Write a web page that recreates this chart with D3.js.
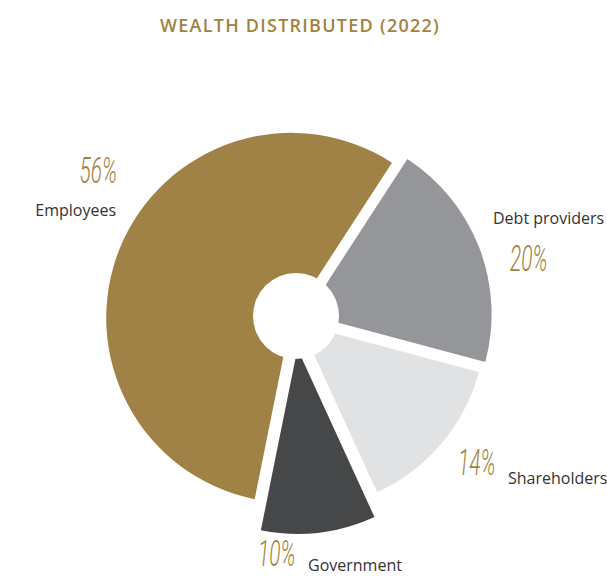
<!DOCTYPE html>
<html>
<head>
<meta charset="utf-8">
<script src="https://cdn.jsdelivr.net/npm/d3@7/dist/d3.min.js"></script>
<style>
  html, body { margin: 0; padding: 0; background: #ffffff; }
  svg { display: block; }
</style>
</head>
<body>
<svg id="chart" width="607" height="576"></svg>
<script>
// Wealth distributed in 2022, share of total (%)
const categories = ["Employees", "Debt providers", "Shareholders", "Government"];
const shares = [56, 20, 14, 10];
const title = "WEALTH DISTRIBUTED (2022)";

// Styling and layout
const sliceColors = ["#a08246", "#95969a", "#e1e2e3", "#464749"];
const pullOut = [3, 13.5, 8, 30];          // how far each slice is pushed from the centre
const gold = "#a2823f";
const cx = 294, cy = 319;
const outerR = 185;
const hole = { x: 296, y: 316, r: 43 };
const startDeg = 191.4;

// label anchors: [x, baseline, text-anchor]
const nameLayout = [[116, 216, "end"], [493, 224, "start"], [508, 484, "start"], [308, 571, "start"]];
const pctLayout  = [[117, 183, "end"], [510, 271, "start"], [458, 475, "start"], [258, 566, "start"]];

const data = categories.map((c, i) => ({ name: c, value: shares[i], i }));

const svg = d3.select("#chart");

svg.append("text")
  .attr("x", 300).attr("y", 32)
  .attr("text-anchor", "middle")
  .attr("font-family", "'Open Sans', 'Noto Sans', sans-serif")
  .attr("font-weight", 600)
  .attr("font-size", 18)
  .attr("letter-spacing", 1.25)
  .attr("fill", gold)
  .text(title);

const a0 = startDeg * Math.PI / 180;
const pie = d3.pie().sort(null).value(d => d.value)
  .startAngle(a0).endAngle(a0 + 2 * Math.PI);
const arc = d3.arc().innerRadius(0).outerRadius(outerR);

const g = svg.append("g").attr("transform", `translate(${cx},${cy})`);

g.selectAll("path.slice")
  .data(pie(data))
  .join("path")
  .attr("class", "slice")
  .attr("fill", d => sliceColors[d.data.i])
  .attr("transform", d => {
    const mid = (d.startAngle + d.endAngle) / 2;
    const k = pullOut[d.data.i];
    return `translate(${k * Math.sin(mid)},${-k * Math.cos(mid)})`;
  })
  .attr("d", arc);

// white hole in the middle
svg.append("circle")
  .attr("cx", hole.x).attr("cy", hole.y).attr("r", hole.r)
  .attr("fill", "#ffffff");

// category names
svg.selectAll("text.name")
  .data(data)
  .join("text")
  .attr("class", "name")
  .attr("x", d => nameLayout[d.i][0])
  .attr("y", d => nameLayout[d.i][1])
  .attr("text-anchor", d => nameLayout[d.i][2])
  .attr("font-family", "'Open Sans', 'Noto Sans', sans-serif")
  .attr("font-size", 16)
  .attr("fill", "#333333")
  .text(d => d.name);

// percentage values, in a thin slanted hand
svg.selectAll("text.pct")
  .data(data)
  .join("text")
  .attr("class", "pct")
  .attr("transform", d => `translate(${pctLayout[d.i][0]},${pctLayout[d.i][1]}) scale(0.58,1)`)
  .attr("text-anchor", d => pctLayout[d.i][2])
  .attr("font-family", "Roboto, 'Open Sans', sans-serif")
  .attr("font-style", "italic")
  .attr("font-weight", 300)
  .attr("font-size", 36)
  .attr("fill", gold)
  .text(d => d.value + "%");
</script>
</body>
</html>
